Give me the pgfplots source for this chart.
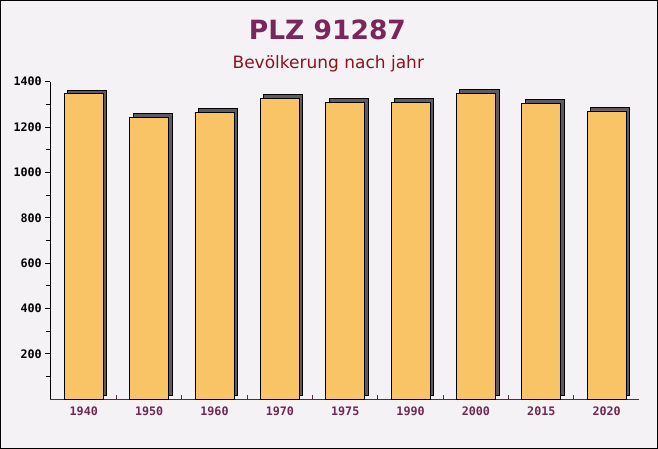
\documentclass[border=0pt]{standalone}
\usepackage{pgfplots}
\pgfplotsset{compat=1.18}
\usepackage{fontspec}
\setmainfont{DejaVu Sans}
\setmonofont{DejaVu Sans Mono}
\usetikzlibrary{shadows}
\definecolor{bgcol}{RGB}{244,242,244}
\definecolor{barcol}{RGB}{248,196,102}
\definecolor{shadowcol}{RGB}{95,90,98}
\definecolor{titlecol}{RGB}{122,38,88}
\definecolor{subcol}{RGB}{139,18,32}
\definecolor{labcol}{RGB}{112,40,84}
\definecolor{xaxcol}{RGB}{90,40,70}
\begin{document}
\begin{tikzpicture}
\fill[bgcol] (0,0) rectangle (658bp,449bp);
\path[use as bounding box] (0,0) rectangle (658bp,449bp);
\node[anchor=base, text=titlecol, font=\bfseries\fontsize{26.5bp}{30bp}\selectfont] at (327.4bp,409bp) {PLZ 91287};
\node[anchor=base, text=subcol, font=\fontsize{17bp}{20bp}\selectfont] at (328.3bp,380bp) {Bevölkerung nach jahr};
\begin{axis}[
  scale only axis,
  width=588.4bp, height=317.6bp,
  at={(50.3bp,49.7bp)}, anchor=south west,
  xmin=-0.512, xmax=8.49, ymin=0, ymax=1400,
  axis x line*=bottom, axis y line*=left,
  x axis line style={-, draw=xaxcol, line width=1bp},
  y axis line style={-, draw=black, line width=1bp},
  xtick={0,...,8},
  xticklabels={1940,1950,1960,1970,1975,1990,2000,2015,2020},
  major x tick style={draw=none},
  minor xtick={0.5,1.5,...,8.5},
  ytick={200,400,...,1400},
  minor ytick={100,300,...,1300},
  xtick align=inside, ytick align=outside,
  major tick length=5bp, minor tick length=4.5bp,
  tick style={black, line width=1bp},
  minor x tick style={xaxcol, line width=1bp},
  xticklabel style={font=\ttfamily\bfseries\fontsize{11.7bp}{13bp}\selectfont, text=labcol, yshift=-4bp},
  yticklabel style={font=\ttfamily\bfseries\fontsize{11.7bp}{13bp}\selectfont, text=black},
  scaled y ticks=false,
  /pgf/number format/assume math mode=true,
  /pgf/number format/set thousands separator={},
]
\addplot[ybar, bar width=39bp, fill=barcol, draw=black, line width=0.9bp,
  drop shadow={shadow xshift=3.5bp, shadow yshift=3.5bp, fill=shadowcol, opacity=1}]
  coordinates {(0,1346) (1,1244) (2,1266) (3,1328) (4,1310) (5,1310) (6,1350) (7,1306) (8,1271)};
\end{axis}
\draw[black, line width=1bp] (0.5bp,0.5bp) rectangle (657.5bp,448.5bp);
\end{tikzpicture}
\end{document}
